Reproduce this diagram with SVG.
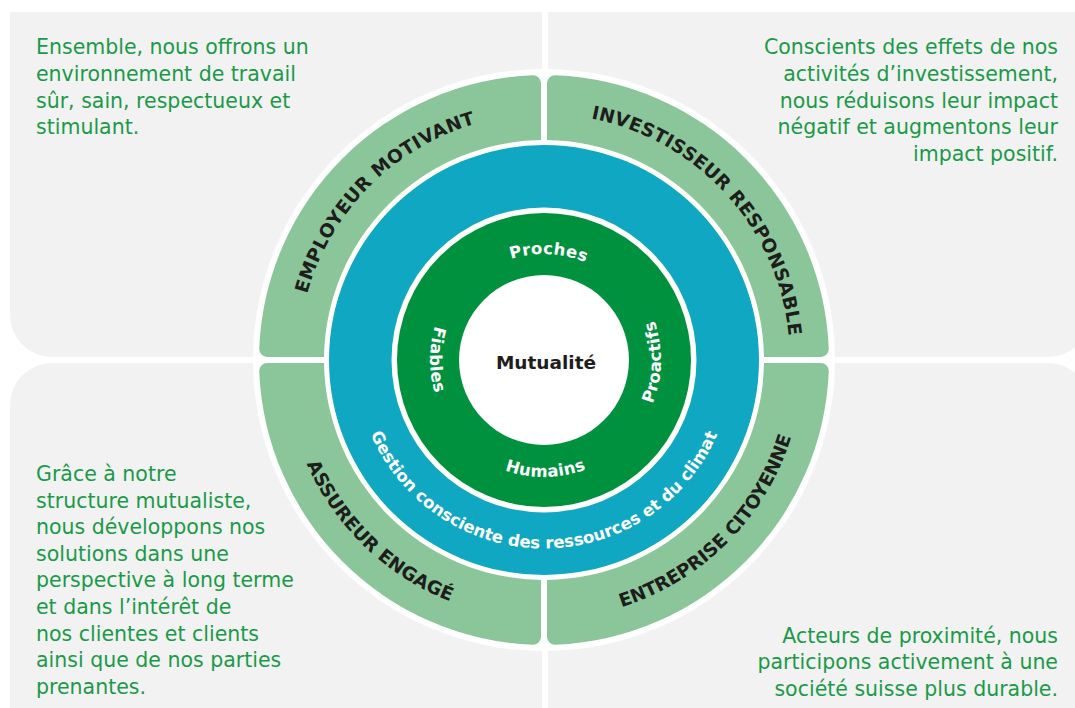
<svg xmlns="http://www.w3.org/2000/svg" width="1075" height="708" viewBox="0 0 1075 708">
<style>
.panel{fill:#f2f2f2}
.para{font-family:"DejaVu Sans","Liberation Sans",sans-serif;font-size:20.5px;fill:#1a9a48}
.ring{font-family:"DejaVu Sans","Liberation Sans",sans-serif;font-size:18.5px;font-weight:700;fill:#1d1d1b}
.wlab{font-family:"DejaVu Sans","Liberation Sans",sans-serif;font-size:16.5px;font-weight:700;fill:#ffffff;letter-spacing:0.3px}
.core{font-family:"DejaVu Sans","Liberation Sans",sans-serif;font-size:18.5px;font-weight:700;fill:#1d1d1b}
.seg{fill:#8bc69a}
</style>
<defs>
<path id="segTL" d="M324.02 357 L267.22 357 A8 8 0 0 1 259.23 348.68 A285 285 0 0 1 532.68 75.23 A8 8 0 0 1 541 83.22 L541 140.02 A220 220 0 0 0 324.02 357 Z"/>
<path id="pEmp" d="M307.05 293.85 A246 246 0 0 1 475.78 123.64"/>
<path id="pInv" d="M590.94 118.53 A246 246 0 0 1 788.87 336.43"/>
<path id="pAss" d="M306.65 463.68 A259 259 0 0 0 449.91 601.31"/>
<path id="pEnt" d="M621.44 607.14 A259 259 0 0 0 791.55 436.15"/>
<path id="pGes" d="M356.22 376.43 A188.5 188.5 0 0 0 731.78 376.43"/>
<path id="pPro" d="M454.60 303.05 A106 106 0 0 1 638.02 311.06"/>
<path id="pHum" d="M443.50 419.90 A117 117 0 0 0 646.13 417.08"/>
<path id="pPra" d="M600.55 462.43 A117 117 0 0 0 604.43 259.81"/>
<path id="pFia" d="M487.34 261.07 A114 114 0 0 0 486.66 458.53"/>
</defs>
<rect width="1075" height="708" fill="#ffffff"/>
<g id="panels">
<path class="panel" d="M10 12 H542 V357 H52 A42 42 0 0 1 10 315 Z"/>
<path class="panel" d="M548 12 H1090 V315 A42 42 0 0 1 1048 357 H548 Z"/>
<path class="panel" d="M52 363 H542 V720 H10 V405 A42 42 0 0 1 52 363 Z"/>
<path class="panel" d="M548 363 H1048 A42 42 0 0 1 1090 405 V720 H548 Z"/>
</g>
<g id="texts">
<text class="para"><tspan x="36" y="54">Ensemble, nous offrons un</tspan><tspan x="36" y="80.8">environnement de travail</tspan><tspan x="36" y="107.6">sûr, sain, respectueux et</tspan><tspan x="36" y="134.4">stimulant.</tspan></text>
<text class="para" text-anchor="end"><tspan x="1058" y="54">Conscients des effets de nos</tspan><tspan x="1058" y="80.8">activités d’investissement,</tspan><tspan x="1058" y="107.6">nous réduisons leur impact</tspan><tspan x="1058" y="134.4">négatif et augmentons leur</tspan><tspan x="1058" y="161.2">impact positif.</tspan></text>
<text class="para"><tspan x="36" y="481">Grâce à notre</tspan><tspan x="36" y="507.6">structure mutualiste,</tspan><tspan x="36" y="534.2">nous développons nos</tspan><tspan x="36" y="560.8">solutions dans une</tspan><tspan x="36" y="587.4">perspective à long terme</tspan><tspan x="36" y="614">et dans l’intérêt de</tspan><tspan x="36" y="640.6">nos clientes et clients</tspan><tspan x="36" y="667.2">ainsi que de nos parties</tspan><tspan x="36" y="693.8">prenantes.</tspan></text>
<text class="para" text-anchor="end"><tspan x="1058" y="642.7">Acteurs de proximité, nous</tspan><tspan x="1058" y="669.2">participons activement à une</tspan><tspan x="1058" y="695.7">société suisse plus durable.</tspan></text>
</g>
<circle cx="544" cy="360" r="291" fill="#ffffff"/>
<g id="ring-outer">
<use href="#segTL" class="seg"/>
<use href="#segTL" class="seg" transform="translate(1088 0) scale(-1 1)"/>
<use href="#segTL" class="seg" transform="translate(0 720) scale(1 -1)"/>
<use href="#segTL" class="seg" transform="translate(1088 720) scale(-1 -1)"/>
</g>
<g id="node-employeur"><text class="ring"><textPath href="#pEmp" textLength="250" lengthAdjust="spacing">EMPLOYEUR MOTIVANT</textPath></text></g>
<g id="node-investisseur"><text class="ring"><textPath href="#pInv" textLength="315" lengthAdjust="spacing">INVESTISSEUR RESPONSABLE</textPath></text></g>
<g id="node-assureur"><text class="ring"><textPath href="#pAss" textLength="204" lengthAdjust="spacing">ASSUREUR ENGAGÉ</textPath></text></g>
<g id="node-entreprise"><text class="ring"><textPath href="#pEnt" textLength="250" lengthAdjust="spacing">ENTREPRISE CITOYENNE</textPath></text></g>
<g id="node-gestion">
<circle cx="544" cy="360" r="215" fill="#0fa7c2"/>
<text class="wlab" style="letter-spacing:0"><textPath href="#pGes" startOffset="50%" text-anchor="middle">Gestion consciente des ressources et du climat</textPath></text>
</g>
<circle cx="544" cy="360" r="152.5" fill="#ffffff"/>
<g id="node-valeurs">
<circle cx="544" cy="360" r="147" fill="#00913f"/>
<text class="wlab" text-anchor="middle"><textPath href="#pPro" startOffset="50%">Proches</textPath></text>
<text class="wlab" text-anchor="middle"><textPath href="#pHum" startOffset="50%">Humains</textPath></text>
<text class="wlab" text-anchor="middle"><textPath href="#pPra" startOffset="50%">Proactifs</textPath></text>
<text class="wlab" text-anchor="middle"><textPath href="#pFia" startOffset="50%">Fiables</textPath></text>
</g>
<g id="node-mutualite">
<circle cx="544" cy="360" r="85" fill="#ffffff"/>
<text class="core" x="546" y="369" text-anchor="middle">Mutualité</text>
</g>
</svg>
